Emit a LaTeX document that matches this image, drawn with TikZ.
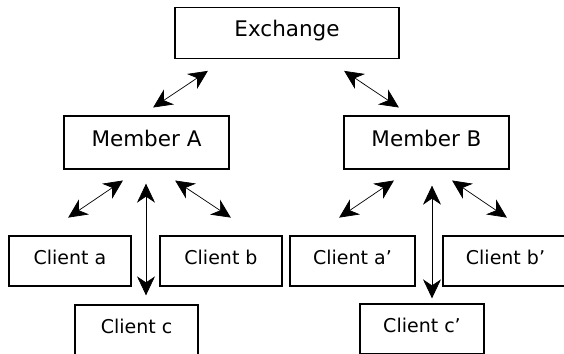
\documentclass[tikz,border=0pt]{standalone}
\usepackage{fontspec}
\setmainfont{DejaVu Sans}
\usetikzlibrary{arrows.meta,calc}
\tikzset{
  bigbox/.style={draw, line width=1.3pt, inner sep=0pt, font=\fontsize{21.5}{26}\selectfont, text height=0.73em, text depth=0pt, minimum height=51pt},
  clientbox/.style={draw, line width=1.3pt, inner sep=0pt, font=\fontsize{19}{23}\selectfont, text height=0.73em, text depth=0pt, minimum height=50pt, minimum width=122pt},
  biarrow/.style={line width=0.7pt, {Stealth[length=19pt,width=18pt,inset=6pt]}-{Stealth[length=19pt,width=18pt,inset=6pt]}}
}
\begin{document}
\begin{tikzpicture}[x=1pt,y=-1pt]
\useasboundingbox (0,0) rectangle (564,353);
\node[bigbox, minimum width=224pt] (E) at (287,33) {Exchange};
\node[bigbox, minimum width=165pt, minimum height=53pt] (A) at (146.5,142.5) {Member A};
\node[bigbox, minimum width=165pt, minimum height=53pt] (B) at (426.5,142.5) {Member B};
\node[clientbox] (ca) at (70,261) {Client a};
\node[clientbox] (cb) at (221,261) {Client b};
\node[clientbox, minimum width=125pt] (cap) at (352.5,261) {Client a’};
\node[clientbox, minimum width=125pt] (cbp) at (505.5,261) {Client b’};
\node[clientbox, minimum width=123pt] (cc) at (136.5,330) {Client c};
\node[clientbox, minimum width=124pt] (ccp) at (422,329) {Client c’};
% Exchange - Members
\draw[biarrow, shorten <=14.1pt, shorten >=21.1pt] ([xshift=-5.1pt]A.north) -- ([xshift=-61.6pt]E.south);
\draw[biarrow, shorten <=21.1pt, shorten >=14.1pt] ([xshift=39.6pt]E.south) -- ([xshift=-15.9pt]B.north);
% Member A - clients
\draw[biarrow, shorten <=19.3pt, shorten >=31.6pt] ([xshift=-7.6pt]A.south) -- ([xshift=-28pt]ca.north);
\draw[biarrow, shorten <=14pt, shorten >=9pt] ([xshift=-0.5pt]A.south) -- ([xshift=-0.5pt]A.south |- cc.north);
\draw[biarrow, shorten <=19.6pt, shorten >=32pt] ([xshift=12.3pt]A.south) -- ([xshift=36.5pt]cb.north);
% Member B - clients
\draw[biarrow, shorten <=19.3pt, shorten >=31.6pt] ([xshift=-16.6pt]B.south) -- ([xshift=-39.5pt]cap.north);
\draw[biarrow, shorten <=16pt, shorten >=5pt] ([xshift=5.5pt]B.south) -- ([xshift=5.5pt]B.south |- ccp.north);
\draw[biarrow, shorten <=19.3pt, shorten >=31.6pt] ([xshift=9.6pt]B.south) -- ([xshift=27.5pt]cbp.north);
\end{tikzpicture}
\end{document}
